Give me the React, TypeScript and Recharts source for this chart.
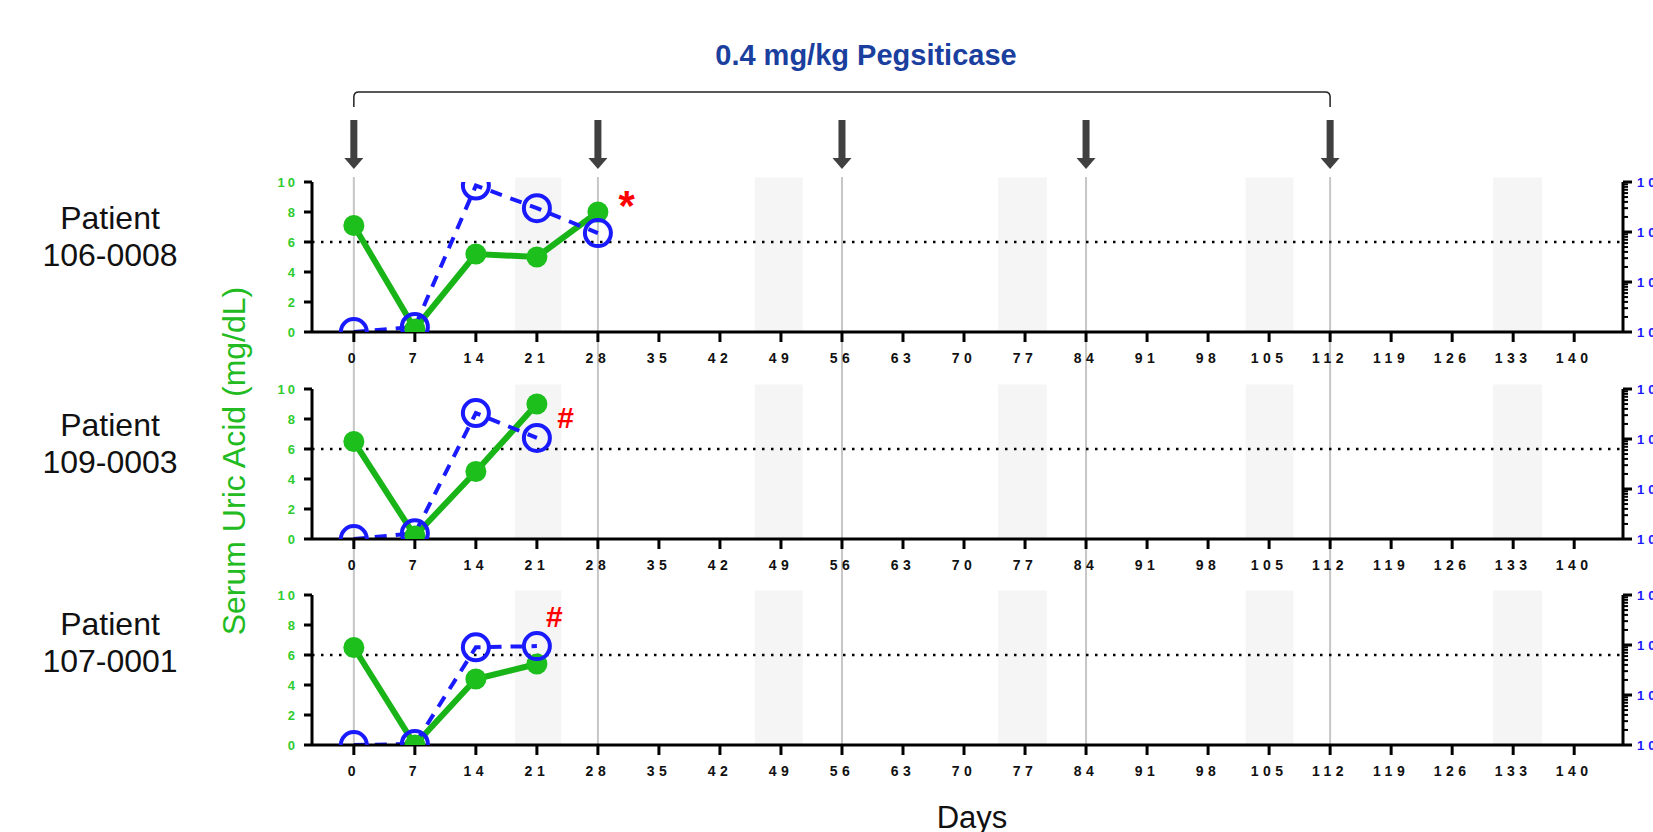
import { ComposedChart, Line, XAxis, YAxis, ReferenceLine, ReferenceArea, ReferenceDot } from 'recharts'

const FONT = '"Liberation Sans", Arial, sans-serif'

// study days and per-patient readings
const days = [0, 7, 14, 21, 28]
const patients = ['106-0008', '109-0003', '107-0001']
const uricP1 = [7.1, 0.2, 5.2, 5.0, 8.0]
const uricP2 = [6.5, 0.2, 4.5, 9.0]
const uricP3 = [6.5, 0.0, 4.4, 5.4]
const titerP1 = [10, 12.6, 8500, 3000, 950]
const titerP2 = [10, 13, 3300, 1050]
const titerP3 = [10, 10.5, 900, 950]
const uric = [uricP1, uricP2, uricP3]
const titer = [titerP1, titerP2, titerP3]

// annotation marks next to the last visit
const marks = ['*', '#', '#']
const markDay = [31.3, 24.3, 23.0]
const markLevel = [9.4, 8.1, 8.6]

const doseDays = [0, 28, 56, 84, 112]
const bandStart = [18.5, 46, 73.9, 102.3, 130.7]
const bandEnd = [23.8, 51.5, 79.5, 107.8, 136.3]
const xTicks = [0, 7, 14, 21, 28, 35, 42, 49, 56, 63, 70, 77, 84, 91, 98, 105, 112, 119, 126, 133, 140]
const leftTicks = [0, 2, 4, 6, 8, 10]
const logTicks = [
  10, 20, 30, 40, 50, 60, 70, 80, 90,
  100, 200, 300, 400, 500, 600, 700, 800, 900,
  1000, 2000, 3000, 4000, 5000, 6000, 7000, 8000, 9000, 10000,
]
const title = '0.4 mg/kg Pegsiticase'

const W = 1720
const X_DOMAIN = [-4.8, 145.6]
const plotTops = [182, 389, 595]
const labelTops = [200, 407, 606]
const GREEN = '#18b418'
const BLUE = '#1a1aff'

const LogTick = (props: any) => {
  const { x, y, payload } = props
  const v = payload.value
  const lg = Math.log10(v)
  const major = Math.abs(lg - Math.round(lg)) < 1e-6
  return (
    <g>
      <line x1={x} y1={y} x2={x + (major ? 9 : 5)} y2={y} stroke="#000" strokeWidth={major ? 3 : 2} />
      {major && (
        <text x={x + 14} y={y} dy="0.35em" fill={BLUE} fontSize={13} fontWeight={700} letterSpacing={4} fontFamily={FONT}>
          {v}
        </text>
      )}
    </g>
  )
}

const DoseArrow = (props: any) => {
  const { x, y } = props.viewBox
  return (
    <g fill="#404040">
      <rect x={x - 3.5} y={y - 57} width={7} height={40} />
      <polygon points={`${x - 9.5},${y - 19} ${x + 9.5},${y - 19} ${x},${y - 8}`} />
    </g>
  )
}

const Bracket = (props: any) => {
  const { x, y, width } = props
  const top = y - 85
  const r = 5
  return (
    <g>
      <path
        d={`M${x},${y - 70} L${x},${top + r} Q${x},${top} ${x + r},${top} L${x + width - r},${top} Q${x + width},${top} ${x + width},${top + r} L${x + width},${y - 70}`}
        fill="none"
        stroke="#222"
        strokeWidth={1.5}
      />
      <text x={x + width / 2 + 24} y={y - 112} textAnchor="middle" fill="#1a3f9e" fontSize={29} fontWeight={700} fontFamily={FONT}>
        {title}
      </text>
    </g>
  )
}

function Panel({ i }: { i: number }) {
  const data = uric[i].map((u, k) => ({ day: days[k], uric: u, titer: titer[i][k] }))
  return (
    <div style={{ position: 'absolute', left: 0, top: plotTops[i] - 10 }}>
      <ComposedChart width={W} height={200} data={data} margin={{ top: 10, right: 37, bottom: 0, left: 252 }}>
        {bandStart.map((b, k) => (
          <ReferenceArea
            key={k}
            yAxisId="left"
            x1={b}
            x2={bandEnd[k]}
            y1={0}
            y2={10.3}
            ifOverflow="visible"
            fill="#f5f5f5"
            fillOpacity={1}
            stroke="none"
          />
        ))}
        <XAxis
          type="number"
          dataKey="day"
          domain={X_DOMAIN}
          ticks={xTicks}
          interval={0}
          allowDataOverflow
          height={40}
          axisLine={{ stroke: '#000', strokeWidth: 3 }}
          tickLine={{ stroke: '#000', strokeWidth: 3 }}
          tickSize={10}
          tickMargin={11}
          tick={{ fill: '#111', fontSize: 14, fontWeight: 700, letterSpacing: 4.5, fontFamily: FONT }}
        />
        <YAxis
          yAxisId="left"
          type="number"
          domain={[0, 10]}
          ticks={leftTicks}
          interval={0}
          allowDataOverflow
          width={60}
          axisLine={{ stroke: '#000', strokeWidth: 3 }}
          tickLine={{ stroke: '#000', strokeWidth: 3 }}
          tickSize={8}
          tickMargin={6}
          tick={{ fill: '#2ecc2e', fontSize: 13, fontWeight: 700, letterSpacing: 3, fontFamily: FONT }}
        />
        <YAxis
          yAxisId="right"
          orientation="right"
          type="number"
          scale="log"
          domain={[10, 10000]}
          ticks={logTicks}
          interval={0}
          allowDataOverflow
          width={60}
          axisLine={{ stroke: '#000', strokeWidth: 3 }}
          tickLine={false}
          tickSize={0}
          tickMargin={0}
          tick={<LogTick />}
        />
        <ReferenceLine yAxisId="left" y={6} stroke="#000" strokeWidth={2.5} strokeDasharray="2.5 6.5" />
        <Line
          yAxisId="left"
          dataKey="uric"
          stroke={GREEN}
          strokeWidth={6}
          dot={{ r: 10.5, fill: '#1cbf1c', stroke: 'none' }}
          isAnimationActive={false}
        />
        <Line
          yAxisId="right"
          dataKey="titer"
          stroke={BLUE}
          strokeWidth={4}
          strokeDasharray="12 9"
          dot={{ r: 13, fill: 'none', stroke: BLUE, strokeWidth: 4, strokeDasharray: '0' }}
          isAnimationActive={false}
        />
        <ReferenceDot
          yAxisId="left"
          x={markDay[i]}
          y={markLevel[i]}
          ifOverflow="visible"
          shape={(p: any) => (
            <text
              x={p.cx}
              y={p.cy}
              dy={marks[i] === '*' ? '0.7em' : '0.35em'}
              textAnchor="middle"
              fill="#ff0000"
              fontSize={marks[i] === '*' ? 42 : 30}
              fontWeight={700}
              fontFamily={FONT}
            >
              {marks[i]}
            </text>
          )}
        />
      </ComposedChart>
    </div>
  )
}

export default function App() {
  const overlayData = doseDays.map((d) => ({ x: d, y: 0.5 }))
  return (
    <div style={{ position: 'absolute', left: 0, top: 0, width: 1653, height: 832, overflow: 'hidden', background: '#fff', fontFamily: FONT }}>
      <div style={{ position: 'absolute', left: 0, top: 0 }}>
        <ComposedChart width={W} height={832} data={overlayData} margin={{ top: 177, right: 97, bottom: 88, left: 312 }}>
          <XAxis type="number" dataKey="x" domain={X_DOMAIN} hide />
          <YAxis type="number" domain={[0, 1]} hide />
          <Line dataKey="y" stroke="none" dot={false} isAnimationActive={false} />
          {doseDays.map((d) => (
            <ReferenceLine key={d} x={d} stroke="#c6c6c6" strokeWidth={2} label={(p: any) => <DoseArrow {...p} />} />
          ))}
          <ReferenceArea
            x1={doseDays[0]}
            x2={doseDays[doseDays.length - 1]}
            y1={0}
            y2={1}
            ifOverflow="visible"
            shape={(p: any) => <Bracket {...p} />}
          />
        </ComposedChart>
      </div>
      {patients.map((p, i) => (
        <Panel key={p} i={i} />
      ))}
      {patients.map((p, i) => (
        <div
          key={p}
          style={{ position: 'absolute', left: 10, width: 200, top: labelTops[i], textAlign: 'center', fontSize: 32, lineHeight: '37px', color: '#111' }}
        >
          Patient
          <br />
          {p}
        </div>
      ))}
      <div
        style={{
          position: 'absolute',
          left: 234 - 250,
          top: 461 - 18,
          width: 500,
          height: 36,
          lineHeight: '36px',
          textAlign: 'center',
          fontSize: 32,
          color: '#22bb22',
          transform: 'rotate(-90deg)',
        }}
      >
        Serum Uric Acid (mg/dL)
      </div>
      <div style={{ position: 'absolute', left: 872, width: 200, top: 803, textAlign: 'center', fontSize: 31, lineHeight: '30px', color: '#111' }}>
        Days
      </div>
    </div>
  )
}
